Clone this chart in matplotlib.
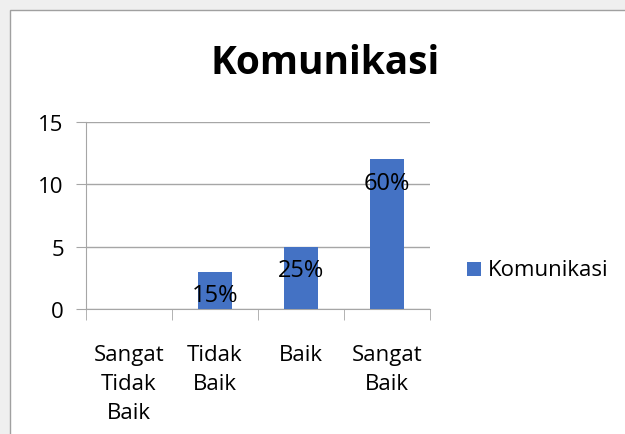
import matplotlib
matplotlib.use('Agg')
from matplotlib import pyplot as plt
from matplotlib.patches import Rectangle

categories = ['Sangat\nTidak\nBaik', 'Tidak\nBaik', 'Baik', 'Sangat\nBaik']
values = [0, 3, 5, 12]
pct_labels = ['', '15%', '25%', '60%']
series_name = 'Komunikasi'

BAR_COLOR = '#4472c4'
GRID_COLOR = '#a6a6a6'
FONT = ['Open Sans', 'DejaVu Sans']

plt.rcParams['font.family'] = FONT

W, H = 625, 435
fig = plt.figure(figsize=(W / 100, H / 100), dpi=100)
fig.patch.set_facecolor('#efefef')

# chart frame (runs off the right/bottom edges like the screenshot)
frame = Rectangle((10 / W, -0.1), 1.2, 1 - 11 / H + 0.1,
                  transform=fig.transFigure, facecolor='white',
                  edgecolor='#a0a0a0', linewidth=1.0, zorder=-5)
fig.patches.append(frame)

ax = fig.add_axes([86 / W, 1 - 310 / H, (430 - 86) / W, (310 - 123) / H])
ax.set_facecolor('none')
ax.set_zorder(5)

x = list(range(len(categories)))
ax.bar(x, values, width=0.4, color=BAR_COLOR, zorder=3)

for xi, v, lab in zip(x, values, pct_labels):
    if lab:
        ax.text(xi, v - 1.9, lab, ha='center', va='center',
                fontsize=17, color='black', zorder=4)

ax.set_xlim(-0.5, len(categories) - 0.5)
ax.set_ylim(0, 15)
ax.set_yticks([0, 5, 10, 15])
ax.yaxis.grid(True, color=GRID_COLOR, linewidth=1.0, zorder=1)
ax.tick_params(axis='y', length=7, color=GRID_COLOR, labelsize=16, pad=9)

ax.set_xticks(x)
ax.set_xticklabels(categories, fontsize=16, linespacing=1.5)
ax.set_xticks([i - 0.5 for i in range(len(categories) + 1)], minor=True)
ax.tick_params(axis='x', which='major', length=0, pad=25)
ax.tick_params(axis='x', which='minor', length=8, color=GRID_COLOR)

for side in ['top', 'right']:
    ax.spines[side].set_visible(False)
ax.spines['left'].set_color(GRID_COLOR)
ax.spines['bottom'].set_color(GRID_COLOR)

fig.text(325 / W, 1 - 64 / H, 'Komunikasi', ha='center', va='center',
         fontsize=28, fontweight='bold', zorder=6)

# legend
fig.patches.append(Rectangle((467 / W, 1 - 277 / H), 14 / W, 14 / H,
                             transform=fig.transFigure, facecolor=BAR_COLOR,
                             edgecolor='none', zorder=6))
fig.text(488 / W, 1 - 270 / H, series_name, ha='left', va='center', fontsize=16,
         zorder=6)

fig.savefig('out.png', dpi=100, facecolor=fig.get_facecolor())
